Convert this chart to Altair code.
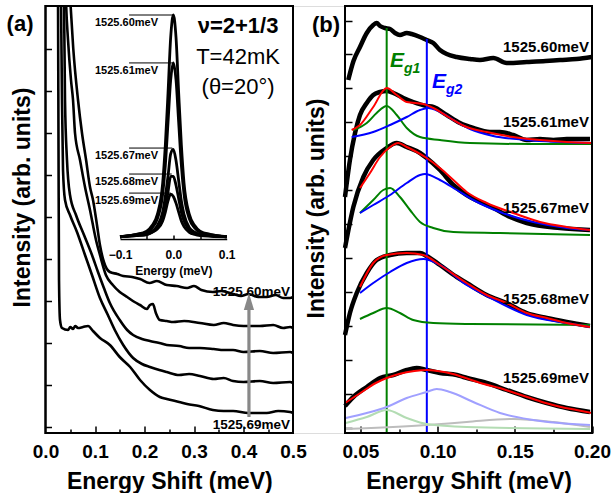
import altair as alt
import pandas as pd

FONT = "Liberation Sans"

# ================= Panel (a): spectra (energy shift, meV / intensity, arb. units) =================
a_names = ["1525.60meV", "1525.61meV", "1525.67meV", "1525.68meV", "1525.69meV"]
a60_x = [0.047, 0.05, 0.056, 0.0657, 0.0737, 0.082, 0.0899, 0.096, 0.104, 0.110, 0.118, 0.130, 0.145, 0.157,
         0.175, 0.191, 0.21, 0.225, 0.245, 0.265, 0.286, 0.30, 0.315, 0.338, 0.355, 0.379, 0.395, 0.41, 0.43,
         0.447, 0.465, 0.48, 0.494, 0.5]
a60_y = [46.0, 43.3, 38.5, 33.3, 30.0, 27.3, 24.6, 23.3, 20.8, 18.8, 17.1, 16.1, 15.9, 15.7, 15.6, 15.4, 15.0,
         15.2, 14.8, 14.7, 14.5, 14.7, 14.3, 14.1, 14.2, 13.9, 13.7, 13.9, 13.6, 13.6, 13.8, 13.5, 13.5, 13.6]
a61_x = [0.040, 0.0414, 0.0455, 0.0515, 0.0556, 0.0596, 0.0697, 0.0798, 0.0899, 0.102, 0.110, 0.122, 0.136, 0.150,
         0.165, 0.18, 0.191, 0.205, 0.211, 0.217, 0.223, 0.231, 0.245, 0.258, 0.28, 0.312, 0.34, 0.36, 0.379,
         0.40, 0.433, 0.46, 0.48, 0.494, 0.5]
a61_y = [46.0, 43.3, 39.3, 35.3, 33.3, 30.0, 27.3, 24.6, 22.3, 19.3, 17.8, 15.8, 14.8, 14.1, 13.6, 13.1, 12.8,
         12.4, 12.8, 12.9, 12.0, 11.3, 11.2, 11.1, 11.2, 11.0, 10.8, 11.0, 10.8, 10.7, 10.7, 10.8, 10.5, 10.6, 10.5]
a67_x = [0.036, 0.0374, 0.0394, 0.0434, 0.0495, 0.0616, 0.0778, 0.0939, 0.106, 0.118, 0.130, 0.150, 0.165, 0.177,
         0.195, 0.211, 0.23, 0.245, 0.27, 0.29, 0.312, 0.34, 0.36, 0.379, 0.40, 0.433, 0.46, 0.494, 0.5]
a67_y = [46.0, 43.3, 33.3, 27.3, 23.8, 21.8, 19.8, 17.8, 16.1, 14.5, 13.0, 11.3, 10.3, 9.8, 9.4, 9.2, 9.0, 8.8,
         8.7, 8.5, 8.5, 8.4, 8.3, 8.3, 8.1, 8.2, 8.0, 8.1, 8.0]
a68_x = [0.030, 0.0313, 0.0333, 0.0354, 0.0394, 0.0495, 0.0636, 0.0798, 0.0939, 0.110, 0.126, 0.140, 0.157, 0.177,
         0.195, 0.211, 0.23, 0.245, 0.27, 0.29, 0.312, 0.34, 0.36, 0.379, 0.40, 0.433, 0.46, 0.494, 0.5]
a68_y = [46.0, 43.3, 33.3, 26.3, 23.3, 21.8, 20.1, 17.8, 15.8, 13.5, 11.8, 10.3, 8.8, 7.5, 6.9, 6.6, 6.3, 6.1,
         5.8, 5.9, 5.7, 5.4, 5.5, 5.2, 5.1, 5.2, 5.0, 5.1, 5.0]
a69_x = [0.025, 0.0253, 0.0263, 0.0273, 0.0293, 0.0333, 0.0455, 0.05, 0.0556, 0.06, 0.0657, 0.0758, 0.0859, 0.096,
         0.110, 0.130, 0.150, 0.171, 0.191, 0.211, 0.231, 0.245, 0.27, 0.286, 0.31, 0.338, 0.36, 0.379, 0.41,
         0.447, 0.47, 0.494, 0.5]
a69_y = [46.0, 43.3, 28.3, 15.3, 11.3, 10.5, 10.3, 10.6, 10.4, 10.7, 10.5, 10.6, 10.7, 10.2, 9.5, 8.8, 7.6, 6.6,
         5.3, 4.3, 3.6, 3.4, 3.1, 2.9, 2.7, 2.3, 2.2, 2.2, 2.0, 2.0, 2.2, 2.1, 2.0]

a_xlabels = [0.0, 0.1, 0.2, 0.3, 0.4, 0.5]
a_xmajor = [0.1, 0.2, 0.3, 0.4]
a_xminor = [0.05, 0.15, 0.25, 0.35, 0.45]
a_yticks = [0.6, 4.8, 9.0, 13.2, 17.4, 21.6, 25.8, 30.0, 34.2, 38.4]
a_ydomain = [0.0, 42.7]
a_xdomain = [0.0, 0.5]

a_info_text = ["ν=2+1/3", "T=42mK", "(θ=20°)"]
a_info_y = [40.7, 37.6, 34.6]
a_info_x = [0.389, 0.389, 0.389]
a_info_bold = [True, False, False]

a_arrow_x = [0.411]
a_arrow_y0 = [1.6]
a_arrow_y1 = [12.4]
a_arrowhead_y = [13.15]
a_arrow_labels = ["1525.60meV", "1525.69meV"]
a_arrow_label_x = [0.416, 0.416]
a_arrow_label_y = [14.1, 0.8]

# ----- inset of panel (a) -----
in_x = [-0.1, -0.07, -0.05, -0.04, -0.03, -0.02, -0.015, -0.01, -0.005, 0.0, 0.005, 0.01, 0.015, 0.02, 0.03,
        0.04, 0.05, 0.07, 0.1]
in60 = [0.01, 0.02, 0.035, 0.06, 0.11, 0.25, 0.42, 0.65, 0.9, 1.0, 0.9, 0.65, 0.42, 0.25, 0.11, 0.06, 0.035, 0.02, 0.01]
in61 = [0.01, 0.02, 0.03, 0.05, 0.09, 0.2, 0.33, 0.52, 0.71, 0.786, 0.71, 0.52, 0.33, 0.2, 0.09, 0.05, 0.03, 0.02, 0.01]
in67 = [0.01, 0.02, 0.025, 0.035, 0.06, 0.12, 0.19, 0.28, 0.38, 0.40, 0.35, 0.26, 0.17, 0.11, 0.05, 0.03, 0.02, 0.015, 0.01]
in68 = [0.01, 0.015, 0.02, 0.03, 0.05, 0.09, 0.14, 0.21, 0.28, 0.28, 0.24, 0.18, 0.12, 0.08, 0.04, 0.025, 0.02, 0.015, 0.01]
in69 = [0.01, 0.015, 0.02, 0.03, 0.045, 0.08, 0.12, 0.17, 0.2, 0.19, 0.16, 0.12, 0.08, 0.055, 0.03, 0.02, 0.015, 0.012, 0.01]
in_xlabels = [-0.1, 0.0, 0.1]
in_xticks = [-0.05, 0.0, 0.05]
in_lab_peak = [1.0, 0.786, 0.406, 0.29, 0.205]
in_lab_peakx = [0.0, 0.0, -0.002, -0.003, -0.005]
in_lab_x0 = [-0.083] * 5
in_lab_tx = [-0.0288] * 5

# ================= Panel (b): spectra with Lorentzian fits =================
b60_x = [0.0421, 0.0455, 0.0497, 0.0541, 0.0583, 0.0605, 0.0627, 0.0659, 0.0692, 0.0724, 0.0756, 0.08, 0.0832,
         0.0886, 0.0929, 0.0972, 0.1015, 0.1059, 0.1124, 0.121, 0.1274, 0.1361, 0.1447, 0.1577, 0.17, 0.1793,
         0.19, 0.1998]
b60_y = [35.3, 37.2, 38.6, 40.0, 40.8, 41.0, 40.7, 40.5, 40.4, 40.0, 39.8, 40.0, 39.9, 39.6, 39.3, 39.0, 38.3,
         37.9, 37.6, 37.4, 37.3, 37.5, 37.0, 37.1, 37.2, 37.3, 37.4, 37.6]
b61_x = [0.04, 0.0432, 0.0465, 0.0497, 0.0541, 0.0583, 0.0627, 0.067, 0.0713, 0.0778, 0.0842, 0.0929, 0.0972,
         0.1059, 0.1145, 0.1231, 0.1339, 0.1404, 0.149, 0.1577, 0.1663, 0.175, 0.1836, 0.1987]
b61_y = [23.6, 27.3, 30.0, 31.8, 33.0, 33.8, 34.1, 34.2, 34.0, 33.5, 33.1, 32.7, 32.6, 31.8, 31.0, 30.5, 30.1,
         30.1, 29.8, 29.3, 29.4, 29.3, 29.4, 29.4]
b67_x = [0.04, 0.0454, 0.0519, 0.0583, 0.067, 0.0735, 0.08, 0.0886, 0.0929, 0.1015, 0.1102, 0.1188, 0.1274,
         0.136, 0.1469, 0.1577, 0.1793, 0.1987]
b67_y = [18.5, 22.6, 25.6, 27.3, 28.5, 29.0, 28.6, 28.0, 27.5, 26.3, 24.8, 23.8, 23.1, 22.5, 21.6, 21.0, 20.5, 20.3]
b68_x = [0.04, 0.0432, 0.0476, 0.0541, 0.0605, 0.0692, 0.08, 0.0886, 0.0929, 0.1015, 0.1124, 0.1188, 0.1318,
         0.1447, 0.1577, 0.1707, 0.1836, 0.1987]
b68_y = [9.8, 12.0, 14.0, 16.0, 17.3, 17.8, 18.0, 18.0, 17.7, 16.8, 15.6, 15.0, 13.8, 13.0, 12.0, 11.5, 11.1, 10.7]
b69_x = [0.04, 0.0454, 0.0541, 0.0627, 0.0713, 0.08, 0.0864, 0.0929, 0.1015, 0.1124, 0.1167, 0.1318, 0.1447,
         0.1577, 0.1707, 0.1836, 0.1987]
b69_y = [2.7, 3.6, 4.6, 5.5, 5.8, 6.3, 6.5, 6.3, 6.0, 5.8, 5.6, 5.0, 4.3, 3.6, 3.0, 2.5, 2.1]

# fits (red)
r61_x = [0.0443, 0.0497, 0.0583, 0.067, 0.0735, 0.08, 0.0907, 0.0972, 0.108, 0.1188, 0.1318, 0.149, 0.1663, 0.1836, 0.2]
r61_y = [30.3, 30.8, 32.6, 34.5, 33.8, 33.1, 32.9, 32.5, 31.5, 30.6, 30.1, 29.6, 29.3, 29.1, 29.0]
r67_x = [0.0497, 0.0562, 0.0627, 0.0692, 0.0745, 0.08, 0.0864, 0.0929, 0.1015, 0.1102, 0.1188, 0.1318, 0.149,
         0.1663, 0.1836, 0.1987]
r67_y = [24.5, 26.0, 27.6, 28.6, 29.0, 28.6, 28.1, 27.5, 26.5, 25.3, 24.1, 23.0, 22.0, 21.1, 20.6, 20.3]
r68_x = [0.0497, 0.0583, 0.067, 0.08, 0.0907, 0.1015, 0.1188, 0.1318, 0.1447, 0.1577, 0.1707, 0.1836, 0.1987]
r68_y = [14.6, 17.0, 17.8, 18.0, 17.8, 16.8, 15.0, 13.8, 13.0, 12.0, 11.5, 11.0, 10.6]
r69_x = [0.04, 0.05, 0.06, 0.067, 0.075, 0.085, 0.093, 0.10, 0.11, 0.12, 0.13, 0.14, 0.15, 0.16, 0.17, 0.18, 0.19, 0.2]
r69_y = [3.0, 4.0, 5.0, 5.5, 5.9, 6.2, 6.3, 6.2, 5.9, 5.4, 4.9, 4.5, 4.0, 3.5, 3.0, 2.6, 2.3, 2.0]

# Eg1 components (green)
g61_x = [0.0454, 0.0541, 0.0605, 0.067, 0.0735, 0.08, 0.0886, 0.1015, 0.121, 0.16, 0.1998]
g61_y = [30.3, 31.0, 32.0, 32.7, 31.8, 30.5, 29.6, 29.3, 29.0, 28.9, 28.9]
g67_x = [0.0497, 0.0583, 0.0648, 0.0692, 0.0756, 0.0821, 0.0886, 0.0972, 0.1102, 0.1404, 0.1987]
g67_y = [22.0, 23.3, 24.3, 24.5, 23.6, 22.3, 21.1, 20.5, 20.1, 20.0, 19.8]
g68_x = [0.0497, 0.0583, 0.067, 0.0756, 0.0842, 0.0972, 0.121, 0.1987]
g68_y = [11.4, 12.0, 12.5, 12.0, 11.3, 11.0, 10.9, 10.8]
# Eg2 components (blue)
u61_x = [0.0443, 0.0583, 0.0692, 0.08, 0.0886, 0.094, 0.1015, 0.1124, 0.121, 0.136, 0.1577, 0.1998]
u61_y = [29.6, 30.1, 30.8, 31.6, 32.3, 32.5, 32.1, 31.1, 30.4, 29.7, 29.3, 29.0]
u67_x = [0.0497, 0.0583, 0.0692, 0.08, 0.0886, 0.0918, 0.1015, 0.1124, 0.1231, 0.1404, 0.162, 0.1836, 0.1987]
u67_y = [22.0, 22.8, 23.8, 25.0, 25.8, 25.9, 25.3, 24.3, 23.3, 22.1, 21.1, 20.5, 20.3]
u68_x = [0.0497, 0.0583, 0.0692, 0.08, 0.0907, 0.1015, 0.1188, 0.1318, 0.1577, 0.1836, 0.1987]
u68_y = [14.0, 15.0, 16.1, 17.0, 17.4, 16.8, 14.8, 13.7, 11.8, 11.0, 10.6]
# faded components of the 1525.69meV fit
f_blue_x = [0.0405, 0.0541, 0.067, 0.08, 0.0929, 0.0994, 0.108, 0.1231, 0.1404, 0.162, 0.1987]
f_blue_y = [1.5, 2.0, 2.6, 3.5, 4.1, 4.4, 4.1, 3.1, 2.0, 1.3, 0.8]
f_green_x = [0.0405, 0.0541, 0.067, 0.08, 0.0929, 0.1188, 0.1987]
f_green_y = [1.0, 1.6, 2.3, 1.5, 0.9, 0.6, 0.4]
f_gray_x = [0.0405, 0.0929, 0.1188, 0.149, 0.175, 0.1987]
f_gray_y = [0.4, 0.8, 1.1, 1.4, 1.1, 0.6]

b_xlabels = [0.05, 0.10, 0.15, 0.20]
b_xminor = [0.075, 0.125, 0.175]
b_yticks = [0.5, 3.9, 7.3, 10.7, 14.1, 17.5, 20.9, 24.3, 27.7, 31.1, 34.5, 37.9, 41.2]
b_xdomain = [0.04, 0.2]
b_ydomain = [0.0, 42.7]

eg_x = [0.067, 0.093]
eg_top = [40.5, 39.4]
eg_color = ["#008000", "#0000ff"]

b_lab_text = ["1525.60meV", "1525.61meV", "1525.67meV", "1525.68meV", "1525.69meV"]
b_lab_x = [0.198] * 5
b_lab_y = [38.6, 31.1, 22.5, 13.4, 5.5]

# ================= layout (pixels) =================
W, H = 546.5, 427
A_RANGE = [0, 247.5]
B_RANGE = [299.5, 546.5]
IN_XRANGE = [74.5, 181.2]
IN_YRANGE = [233, 9]


def series_df(items):
    rows = []
    for name, xs, ys, *rest in items:
        assert len(xs) == len(ys), name
        col = rest[0] if rest else "black"
        for i, (x, y) in enumerate(zip(xs, ys)):
            rows.append({"s": name, "i": i, "x": x, "y": y, "c": col})
    return pd.DataFrame(rows)


AX = dict(labelFont=FONT, titleFont=FONT, labelColor="black", titleColor="black",
          labelFontWeight="bold", titleFontWeight="bold", grid=False)
TK = dict(labels=False, domain=False, title=None, grid=False, tickColor="black", tickWidth=1.5)

# ---------------- Panel (a) ----------------
sxa = alt.Scale(domain=a_xdomain, range=A_RANGE, nice=False, zero=False)
sya = alt.Scale(domain=a_ydomain, range=[H, 0], nice=False, zero=False)

df_a = series_df([(a_names[0], a60_x, a60_y), (a_names[1], a61_x, a61_y), (a_names[2], a67_x, a67_y),
                  (a_names[3], a68_x, a68_y), (a_names[4], a69_x, a69_y)])
df_fa = pd.DataFrame({"x0": [a_xdomain[0]], "x1": [a_xdomain[1]], "y0": [a_ydomain[0]], "y1": [a_ydomain[1]]})

a_lines = alt.Chart(df_a).mark_line(color="black", strokeWidth=2.6, clip=True, interpolate="monotone").encode(
    x=alt.X("x:Q", scale=sxa, axis=alt.Axis(orient="bottom", values=a_xlabels, format=".1f", ticks=False,
            domain=False, title="Energy Shift (meV)", labelFontSize=19, titleFontSize=23, labelPadding=9,
            titlePadding=9, labelFlush=False, labelOverlap=False, **AX)),
    y=alt.Y("y:Q", scale=sya, axis=alt.Axis(orient="left", labels=False, ticks=False, domain=False,
            title="Intensity (arb. units)", titleFontSize=23, titleX=-23.5, titleY=191, titleAngle=270,
            titleAlign="center", titleBaseline="middle", **AX)),
    detail="s:N", order="i:Q")

a_frame1 = alt.Chart(df_fa).mark_rect(filled=False, color="black", strokeWidth=2).encode(
    x=alt.X("x0:Q", scale=sxa, axis=alt.Axis(orient="top", offset=-H, values=a_xminor, tickSize=4, **TK)),
    x2="x1:Q",
    y=alt.Y("y0:Q", scale=sya, axis=alt.Axis(orient="right", offset=-W, values=a_yticks, tickSize=6, **TK)),
    y2="y1:Q")
a_frame2 = alt.Chart(df_fa).mark_rect(filled=False, color="black", strokeWidth=2).encode(
    x=alt.X("x0:Q", scale=sxa, axis=alt.Axis(orient="top", offset=-H, values=a_xmajor, tickSize=7, **TK)),
    x2="x1:Q",
    y=alt.Y("y0:Q", scale=sya, axis=None),
    y2="y1:Q")

df_info = pd.DataFrame({"x": a_info_x, "y": a_info_y, "t": a_info_text, "b": a_info_bold})
a_info_b = alt.Chart(df_info[df_info.b]).mark_text(font=FONT, fontSize=22, fontWeight="bold", color="black").encode(
    x=alt.X("x:Q", scale=sxa, axis=None), y=alt.Y("y:Q", scale=sya, axis=None), text="t:N")
a_info_n = alt.Chart(df_info[~df_info.b]).mark_text(font=FONT, fontSize=22, color="black").encode(
    x=alt.X("x:Q", scale=sxa, axis=None), y=alt.Y("y:Q", scale=sya, axis=None), text="t:N")

df_alab = pd.DataFrame({"x": a_arrow_label_x, "y": a_arrow_label_y, "t": a_arrow_labels})
a_alab = alt.Chart(df_alab).mark_text(font=FONT, fontSize=13.5, fontWeight="bold", color="black").encode(
    x=alt.X("x:Q", scale=sxa, axis=None), y=alt.Y("y:Q", scale=sya, axis=None), text="t:N")
df_arrow = pd.DataFrame({"x": a_arrow_x, "y0": a_arrow_y0, "y1": a_arrow_y1, "yh": a_arrowhead_y})
a_shaft = alt.Chart(df_arrow).mark_rule(color="#888888", strokeWidth=3.2).encode(
    x=alt.X("x:Q", scale=sxa, axis=None), y=alt.Y("y0:Q", scale=sya, axis=None), y2="y1:Q")
a_head = alt.Chart(df_arrow).mark_point(shape="M-0.6,1L0,-1L0.6,1Z", size=289, filled=True, color="#888888",
                                        opacity=1).encode(
    x=alt.X("x:Q", scale=sxa, axis=None), y=alt.Y("yh:Q", scale=sya, axis=None))

df_pa = pd.DataFrame({"x": [-0.0515], "y": [40.9], "t": ["(a)"]})
a_plabel = alt.Chart(df_pa).mark_text(font=FONT, fontSize=22, fontWeight="bold", color="black").encode(
    x=alt.X("x:Q", scale=sxa, axis=None), y=alt.Y("y:Q", scale=sya, axis=None), text="t:N")

panel_a = alt.layer(a_lines, a_frame1, a_frame2, a_info_b, a_info_n, a_alab, a_shaft, a_head, a_plabel
                    ).resolve_scale(x="shared", y="shared").resolve_axis(x="independent", y="independent")

# ---------------- inset ----------------
sxi = alt.Scale(domain=[-0.1, 0.1], range=IN_XRANGE, nice=False, zero=False)
syi = alt.Scale(domain=[0, 1], range=IN_YRANGE, nice=False, zero=False)
df_in = series_df([(a_names[0], in_x, in60), (a_names[1], in_x, in61), (a_names[2], in_x, in67),
                   (a_names[3], in_x, in68), (a_names[4], in_x, in69)])
df_inlab = pd.DataFrame({"t": a_names, "y": in_lab_peak, "x0": in_lab_x0, "x1": in_lab_peakx, "tx": in_lab_tx})

in_lines = alt.Chart(df_in).mark_line(color="black", strokeWidth=2.8, interpolate="monotone").encode(
    x=alt.X("x:Q", scale=sxi, axis=alt.Axis(orient="bottom", offset=-194, values=in_xlabels, format=".1f",
            ticks=False, domain=True, domainColor="black", domainWidth=1.5, title="Energy (meV)",
            labelFontSize=12, titleFontSize=12, labelPadding=10, titlePadding=5, labelFlush=False,
            labelOverlap=False, **AX)),
    y=alt.Y("y:Q", scale=syi, axis=None), detail="s:N", order="i:Q")
in_rules = alt.Chart(df_inlab).mark_rule(color="black", strokeWidth=1).encode(
    x=alt.X("x0:Q", scale=sxi, axis=alt.Axis(orient="top", offset=-233, values=in_xticks, tickSize=4, **TK)),
    x2="x1:Q", y=alt.Y("y:Q", scale=syi, axis=None))
in_text = alt.Chart(df_inlab).mark_text(align="right", baseline="top", dy=2, font=FONT, fontSize=11,
                                        fontWeight="bold", color="black").encode(
    x=alt.X("tx:Q", scale=sxi, axis=None), y=alt.Y("y:Q", scale=syi, axis=None), text="t:N")

inset = alt.layer(in_lines, in_rules, in_text).resolve_scale(x="shared", y="shared").resolve_axis(
    x="independent", y="independent")

# ---------------- Panel (b) ----------------
sxb = alt.Scale(domain=b_xdomain, range=B_RANGE, nice=False, zero=False)
syb = alt.Scale(domain=b_ydomain, range=[H, 0], nice=False, zero=False)

df_fb = pd.DataFrame({"x0": [b_xdomain[0]], "x1": [b_xdomain[1]], "y0": [b_ydomain[0]], "y1": [b_ydomain[1]]})
df_eg = pd.DataFrame({"x": eg_x, "y0": [b_ydomain[0]] * 2, "y1": eg_top, "c": eg_color})
df_bk = series_df([(b_lab_text[0], b60_x, b60_y), (b_lab_text[1], b61_x, b61_y), (b_lab_text[2], b67_x, b67_y),
                   (b_lab_text[3], b68_x, b68_y), (b_lab_text[4], b69_x, b69_y)])
df_faded = series_df([("fgray", f_gray_x, f_gray_y, "#bdbdbd"), ("fgreen", f_green_x, f_green_y, "#b3dcb3"),
                      ("fblue", f_blue_x, f_blue_y, "#a0a0ff")])
df_comp = series_df([("g61", g61_x, g61_y, "#008000"), ("g67", g67_x, g67_y, "#008000"),
                     ("g68", g68_x, g68_y, "#008000"), ("u61", u61_x, u61_y, "#0000ff"),
                     ("u67", u67_x, u67_y, "#0000ff"), ("u68", u68_x, u68_y, "#0000ff")])
df_red = series_df([("r61", r61_x, r61_y), ("r67", r67_x, r67_y), ("r68", r68_x, r68_y), ("r69", r69_x, r69_y)])

b_eg = alt.Chart(df_eg).mark_rule(strokeWidth=2).encode(
    x=alt.X("x:Q", scale=sxb, axis=None), y=alt.Y("y0:Q", scale=syb, axis=None), y2="y1:Q",
    color=alt.Color("c:N", scale=None))
b_black = alt.Chart(df_bk).mark_line(color="black", strokeWidth=4.5, clip=True, interpolate="monotone").encode(
    x=alt.X("x:Q", scale=sxb, axis=alt.Axis(orient="bottom", values=b_xlabels, format=".2f", ticks=False,
            domain=False, title="Energy Shift (meV)", labelFontSize=19, titleFontSize=23, labelPadding=9,
            titlePadding=9, labelFlush=False, labelOverlap=False, **AX)),
    y=alt.Y("y:Q", scale=syb, axis=alt.Axis(orient="left", offset=-B_RANGE[0], labels=False, ticks=False,
            domain=False, title="Intensity (arb. units)", titleFontSize=23, titleX=-29, titleY=202,
            titleAngle=270, titleAlign="center", titleBaseline="middle", **AX)),
    detail="s:N", order="i:Q")
b_faded = alt.Chart(df_faded).mark_line(strokeWidth=2, clip=True, interpolate="monotone").encode(
    x=alt.X("x:Q", scale=sxb, axis=None), y=alt.Y("y:Q", scale=syb, axis=None),
    color=alt.Color("c:N", scale=None), detail="s:N", order="i:Q")
b_comp = alt.Chart(df_comp).mark_line(strokeWidth=2, clip=True, interpolate="monotone").encode(
    x=alt.X("x:Q", scale=sxb, axis=None), y=alt.Y("y:Q", scale=syb, axis=None),
    color=alt.Color("c:N", scale=None), detail="s:N", order="i:Q")
b_red = alt.Chart(df_red).mark_line(color="#ff0000", strokeWidth=2, clip=True, interpolate="monotone").encode(
    x=alt.X("x:Q", scale=sxb, axis=None), y=alt.Y("y:Q", scale=syb, axis=None), detail="s:N", order="i:Q")

b_frame1 = alt.Chart(df_fb).mark_rect(filled=False, color="black", strokeWidth=2).encode(
    x=alt.X("x0:Q", scale=sxb, axis=alt.Axis(orient="top", offset=-H, values=b_xlabels, tickSize=7, **TK)),
    x2="x1:Q",
    y=alt.Y("y0:Q", scale=syb, axis=alt.Axis(orient="right", offset=-(W - B_RANGE[0]), values=b_yticks,
            tickSize=7, **TK)),
    y2="y1:Q")
b_frame2 = alt.Chart(df_fb).mark_rect(filled=False, color="black", strokeWidth=2).encode(
    x=alt.X("x0:Q", scale=sxb, axis=alt.Axis(orient="top", offset=-H, values=b_xminor, tickSize=4, **TK)),
    x2="x1:Q",
    y=alt.Y("y0:Q", scale=syb, axis=None),
    y2="y1:Q")

df_blab = pd.DataFrame({"x": b_lab_x, "y": b_lab_y, "t": b_lab_text})
b_labels = alt.Chart(df_blab).mark_text(align="right", baseline="middle", font=FONT, fontSize=15,
                                        fontWeight="bold", color="black").encode(
    x=alt.X("x:Q", scale=sxb, axis=None), y=alt.Y("y:Q", scale=syb, axis=None), text="t:N")

df_E = pd.DataFrame({"x": [0.0692, 0.0964], "y": [36.6, 34.5], "t": ["E", "E"], "c": eg_color})
df_sub = pd.DataFrame({"x": [0.0782, 0.1054], "y": [36.0, 33.9], "t": ["g1", "g2"], "c": eg_color})
b_E = alt.Chart(df_E).mark_text(align="left", baseline="alphabetic", font=FONT, fontSize=21, fontWeight="bold",
                                fontStyle="italic").encode(
    x=alt.X("x:Q", scale=sxb, axis=None), y=alt.Y("y:Q", scale=syb, axis=None), text="t:N",
    color=alt.Color("c:N", scale=None))
b_sub = alt.Chart(df_sub).mark_text(align="left", baseline="alphabetic", font=FONT, fontSize=14,
                                    fontWeight="bold", fontStyle="italic").encode(
    x=alt.X("x:Q", scale=sxb, axis=None), y=alt.Y("y:Q", scale=syb, axis=None), text="t:N",
    color=alt.Color("c:N", scale=None))

df_pb = pd.DataFrame({"x": [0.0277], "y": [40.8], "t": ["(b)"]})
b_plabel = alt.Chart(df_pb).mark_text(font=FONT, fontSize=22, fontWeight="bold", color="black").encode(
    x=alt.X("x:Q", scale=sxb, axis=None), y=alt.Y("y:Q", scale=syb, axis=None), text="t:N")

panel_b = alt.layer(b_black, b_eg, b_faded, b_comp, b_red, b_frame1, b_frame2, b_labels, b_E, b_sub, b_plabel
                    ).resolve_scale(x="shared", y="shared").resolve_axis(x="independent", y="independent")

chart = alt.layer(panel_a, inset, panel_b).resolve_scale(x="independent", y="independent").properties(
    width=W, height=H,
    padding={"left": 45.5, "top": 6, "right": 611 - 45.5 - W, "bottom": 493 - 6 - H},
    autosize=alt.AutoSizeParams(type="none"),
).configure_view(stroke=None).configure(font=FONT, background="white")

chart.save("out.html", embed_options={"renderer": "svg", "actions": False})
